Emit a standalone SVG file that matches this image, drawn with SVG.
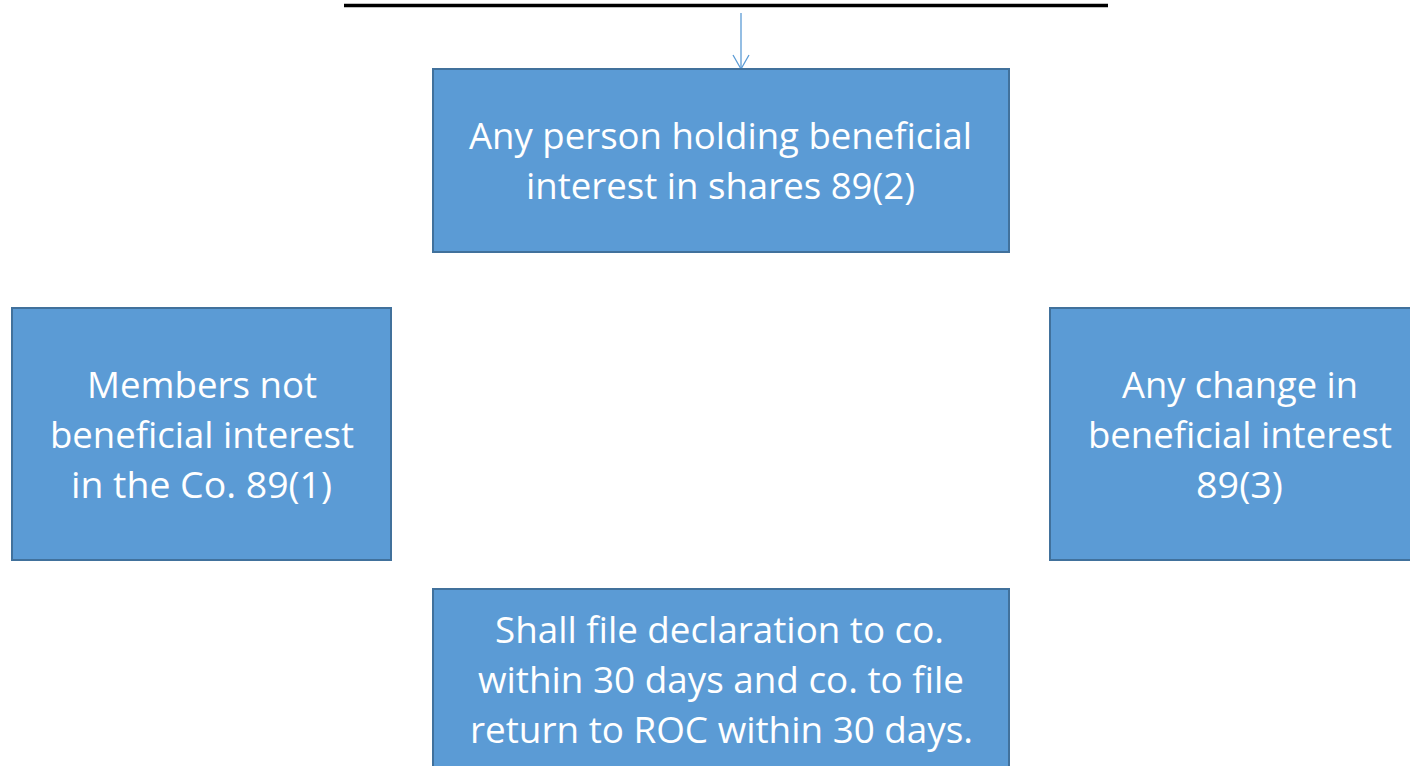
<svg xmlns="http://www.w3.org/2000/svg" width="1410" height="766" viewBox="0 0 1410 766">
  <style>
    .box { fill: #5B9BD5; stroke: #41719C; stroke-width: 2; }
    .lbl { font-family: "Open Sans", "Noto Sans", sans-serif; font-size: 36px; fill: #FFFFFF; text-anchor: middle; }
    .rule { stroke: #000000; stroke-width: 3.5; }
    .conn { stroke: #5B9BD5; stroke-width: 1.3; fill: none; }
  </style>
  <defs>
    <!-- open V arrowhead, drawn pointing along +x -->
    <marker id="openHead" markerWidth="16" markerHeight="18" refX="14" refY="8" orient="auto" markerUnits="userSpaceOnUse" viewBox="0 0 16 18" overflow="visible">
      <path d="M0,0 L14,8 L0,16" fill="none" stroke="#5B9BD5" stroke-width="1.3"/>
    </marker>
  </defs>

  <rect width="1410" height="766" fill="#FFFFFF"/>

  <!-- horizontal rule at the top -->
  <line class="rule" x1="344" y1="5.5" x2="1108" y2="5.5"/>

  <!-- connectors -->
  <g id="connectors">
    <path class="conn" d="M741,13 L741,69" marker-end="url(#openHead)"/>
  </g>

  <g id="node-holding">
    <rect class="box" x="433" y="69" width="576" height="183"/>
    <text class="lbl" x="720.5" y="149" textLength="503" lengthAdjust="spacingAndGlyphs">Any person holding beneficial</text>
    <text class="lbl" x="720.5" y="199" textLength="389" lengthAdjust="spacingAndGlyphs">interest in shares 89(2)</text>
  </g>

  <g id="node-members">
    <rect class="box" x="12" y="308" width="379" height="252"/>
    <text class="lbl" x="202" y="398" textLength="230" lengthAdjust="spacingAndGlyphs">Members not</text>
    <text class="lbl" x="202" y="448" textLength="304" lengthAdjust="spacingAndGlyphs">beneficial interest</text>
    <text class="lbl" x="201.5" y="498" textLength="261" lengthAdjust="spacingAndGlyphs">in the Co. 89(1)</text>
  </g>

  <g id="node-change">
    <rect class="box" x="1050" y="308" width="380" height="252"/>
    <text class="lbl" x="1240" y="398" textLength="236" lengthAdjust="spacingAndGlyphs">Any change in</text>
    <text class="lbl" x="1240" y="448" textLength="304" lengthAdjust="spacingAndGlyphs">beneficial interest</text>
    <text class="lbl" x="1239.5" y="498" textLength="87" lengthAdjust="spacingAndGlyphs">89(3)</text>
  </g>

  <g id="node-declaration">
    <rect class="box" x="433" y="589" width="576" height="200"/>
    <text class="lbl" x="719.5" y="643" textLength="449" lengthAdjust="spacingAndGlyphs">Shall file declaration to co.</text>
    <text class="lbl" x="721" y="693" textLength="486" lengthAdjust="spacingAndGlyphs">within 30 days and co. to file</text>
    <text class="lbl" x="721.5" y="743" textLength="503" lengthAdjust="spacingAndGlyphs">return to ROC within 30 days.</text>
  </g>
</svg>
